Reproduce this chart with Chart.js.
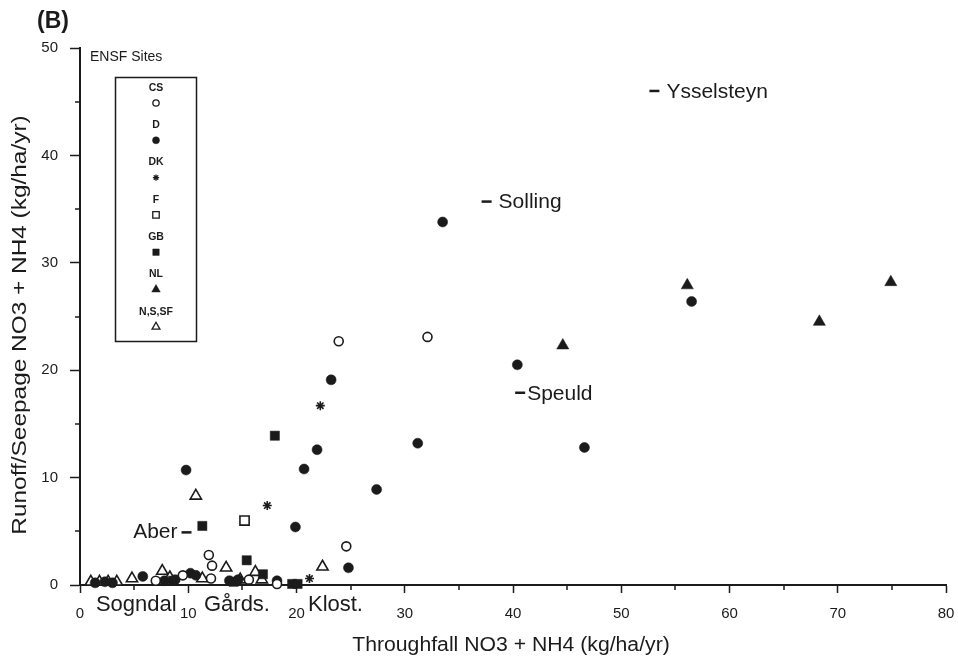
<!DOCTYPE html>
<html>
<head>
<meta charset="utf-8">
<script src="https://cdn.jsdelivr.net/npm/chart.js@4.4.1/dist/chart.umd.min.js"></script>
<style>
  html, body { margin: 0; padding: 0; background: #fff; }
  canvas { display: block; }
</style>
</head>
<body>
<canvas id="chart" width="958" height="664"></canvas>
<script>
(function () {
  "use strict";

  // ENSF site groups (kg/ha/yr)
  const siteNames = ["CS", "D", "DK", "F", "GB", "NL", "N,S,SF"];

  const csX = [23.9, 32.1, 24.6, 11.9, 12.2, 12.1, 9.5, 15.6, 18.2, 7.0];
  const csY = [22.7, 23.1, 3.6, 2.8, 1.8, 0.6, 0.9, 0.5, 0.1, 0.4];

  const dX = [33.5, 9.8, 23.2, 21.9, 20.7, 19.9, 27.4, 31.2, 40.4, 46.6, 56.5, 24.8, 18.2, 10.2, 10.7, 5.8, 7.8, 8.8, 13.8, 14.6, 2.3, 3.0, 1.4];
  const dY = [33.8, 10.7, 19.1, 12.6, 10.8, 5.4, 8.9, 13.2, 20.5, 12.8, 26.4, 1.6, 0.4, 1.1, 0.9, 0.8, 0.4, 0.5, 0.4, 0.5, 0.3, 0.2, 0.2];

  const dkX = [22.2, 17.3, 21.2];
  const dkY = [16.7, 7.4, 0.6];

  const fX = [15.2];
  const fY = [6.0];

  const gbX = [11.3, 18.0, 15.4, 16.9, 19.6, 20.1, 8.6, 14.2];
  const gbY = [5.5, 13.9, 2.3, 1.0, 0.1, 0.1, 0.4, 0.3];

  const nlX = [56.1, 74.9, 68.3, 44.6];
  const nlY = [27.9, 28.2, 24.5, 22.3];

  const nssfX = [10.7, 22.4, 13.5, 16.2, 7.6, 4.8, 14.8, 1.0, 1.8, 2.6, 3.4, 8.3, 11.3, 16.8];
  const nssfY = [8.3, 1.7, 1.6, 1.2, 1.3, 0.6, 0.5, 0.3, 0.3, 0.3, 0.3, 0.7, 0.6, 0.5];

  const siteX = [csX, dX, dkX, fX, gbX, nlX, nssfX];
  const siteY = [csY, dY, dkY, fY, gbY, nlY, nssfY];

  // named sites written next to points
  const noteText = ["Ysselsteyn", "Solling", "Speuld", "Aber"];
  const noteX = [52.6, 37.1, 40.2, 10.3];
  const noteY = [46.0, 35.7, 17.9, 4.9];

  // sites named under the x axis
  const regionText = ["Sogndal", "Gårds.", "Klost."];
  const regionX = [5.2, 14.5, 23.6];

  const xTicks = [0, 10, 20, 30, 40, 50, 60, 70, 80];
  const yTicks = [0, 10, 20, 30, 40, 50];

  const xTitle = "Throughfall NO3 + NH4 (kg/ha/yr)";
  const yTitle = "Runoff/Seepage NO3 + NH4 (kg/ha/yr)";

  // ---- styling ----
  const ink = "#1b1b1b";
  const font = "'Liberation Sans', Arial, Helvetica, sans-serif";

  const markerStyles = [
    { pointStyle: "circle", filled: false, radius: 4.5 },
    { pointStyle: "circle", filled: true, radius: 5 },
    { pointStyle: "star", filled: false, radius: 4.5 },
    { pointStyle: "rect", filled: false, radius: 6.5 },
    { pointStyle: "rect", filled: true, radius: 6.5 },
    { pointStyle: "triangle", filled: true, radius: 7 },
    { pointStyle: "triangle", filled: false, radius: 6.5 },
  ];
  const noteSide = ["right", "right", "right", "left"];
  const noteGap = [7, 7, 2, 4];

  function pts(xs, ys) {
    return xs.map((x, i) => ({ x, y: ys[i] }));
  }

  const datasets = siteNames.map((name, i) => {
    const m = markerStyles[i];
    return {
      label: name,
      data: pts(siteX[i], siteY[i]),
      pointStyle: m.pointStyle,
      pointRadius: m.radius,
      pointHoverRadius: m.radius,
      backgroundColor: m.filled ? ink : "#ffffff",
      borderColor: ink,
      borderWidth: m.filled ? 0.5 : 1.6,
      clip: false,
    };
  });

  function drawMarker(ctx, m, x, y, scale) {
    ctx.fillStyle = m.filled ? ink : "#ffffff";
    ctx.strokeStyle = ink;
    ctx.lineWidth = m.filled ? 0.5 : 1.3;
    Chart.helpers.drawPoint(ctx, {
      pointStyle: m.pointStyle,
      radius: m.radius * scale,
      rotation: 0,
      borderWidth: ctx.lineWidth,
    }, x, y);
  }

  // the scanned lettering runs a little wide along its line
  function wideText(ctx, text, cx, cy, angle, stretch) {
    ctx.save();
    ctx.translate(cx, cy);
    ctx.rotate(angle);
    ctx.scale(stretch, 1);
    ctx.textAlign = "center";
    ctx.textBaseline = "middle";
    ctx.fillText(text, 0, 0);
    ctx.restore();
  }

  const decorations = {
    id: "decorations",
    afterDraw(chart) {
      const { ctx } = chart;
      const x = chart.scales.x;
      const y = chart.scales.y;
      ctx.save();

      // minor ticks at the fives
      ctx.strokeStyle = ink;
      ctx.lineWidth = 1.5;
      ctx.beginPath();
      for (let v = 5; v < 80; v += 10) {
        const px = Math.round(x.getPixelForValue(v));
        ctx.moveTo(px, x.top);
        ctx.lineTo(px, x.top + 5);
      }
      for (let v = 5; v < 50; v += 10) {
        const py = Math.round(y.getPixelForValue(v));
        ctx.moveTo(y.right, py);
        ctx.lineTo(y.right - 5, py);
      }
      ctx.stroke();

      // axis titles
      ctx.fillStyle = ink;
      ctx.font = "20px " + font;
      wideText(ctx, xTitle, 511, 645, 0, 1.06);
      wideText(ctx, yTitle, 20, 325, -Math.PI / 2, 1.22);

      // panel letter
      ctx.font = "bold 23px " + font;
      ctx.textAlign = "left";
      ctx.textBaseline = "middle";
      ctx.fillText("(B)", 37, 22);

      // site names next to points
      ctx.font = "21px " + font;
      ctx.lineWidth = 2.5;
      noteText.forEach((t, i) => {
        const px = x.getPixelForValue(noteX[i]);
        const py = y.getPixelForValue(noteY[i]);
        ctx.beginPath();
        if (noteSide[i] === "right") {
          ctx.moveTo(px, py);
          ctx.lineTo(px + 10, py);
          ctx.stroke();
          ctx.textAlign = "left";
          ctx.fillText(t, px + 10 + noteGap[i], py + 1);
        } else {
          ctx.moveTo(px - 10, py);
          ctx.lineTo(px, py);
          ctx.stroke();
          ctx.textAlign = "right";
          ctx.fillText(t, px - 10 - noteGap[i], py);
        }
      });

      // names under the axis
      ctx.font = "22px " + font;
      ctx.textAlign = "center";
      regionText.forEach((t, i) => {
        ctx.fillText(t, x.getPixelForValue(regionX[i]), x.top + 20);
      });

      // legend box
      ctx.font = "14px " + font;
      ctx.textAlign = "left";
      ctx.fillText("ENSF Sites", 90, 57);
      ctx.lineWidth = 1.5;
      ctx.strokeRect(115.5, 77.5, 81, 264);
      ctx.font = "bold 10.5px " + font;
      ctx.textAlign = "center";
      siteNames.forEach((name, i) => {
        const ty = 88 + i * 37.3;
        ctx.fillStyle = ink;
        ctx.fillText(name, 156, ty);
        drawMarker(ctx, markerStyles[i], 156, ty + 15, 0.7);
      });

      ctx.restore();
    },
  };

  new Chart(document.getElementById("chart").getContext("2d"), {
    type: "scatter",
    data: { datasets },
    options: {
      responsive: false,
      animation: false,
      events: [],
      layout: { padding: { top: 48, right: 12, left: 0, bottom: 0 } },
      plugins: { legend: { display: false }, tooltip: { enabled: false } },
      scales: {
        x: {
          type: "linear",
          min: 0,
          max: 80,
          afterFit(s) {
            s.height = 79;
            s.paddingLeft = 0;
            s.paddingRight = 0;
          },
          afterBuildTicks(s) { s.ticks = xTicks.map((v) => ({ value: v })); },
          ticks: { color: ink, font: { family: font, size: 15 }, padding: 12, maxRotation: 0 },
          grid: { drawOnChartArea: false, drawTicks: true, tickLength: 8, tickColor: ink, tickWidth: 1.5 },
          border: { color: ink, width: 2 },
        },
        y: {
          type: "linear",
          min: 0,
          max: 50,
          afterFit(s) { s.width = 80; },
          afterBuildTicks(s) { s.ticks = yTicks.map((v) => ({ value: v })); },
          ticks: { color: ink, font: { family: font, size: 15 }, padding: 12 },
          grid: { drawOnChartArea: false, drawTicks: true, tickLength: 10, tickColor: ink, tickWidth: 1.5 },
          border: { color: ink, width: 2 },
        },
      },
    },
    plugins: [decorations],
  });
})();
</script>
</body>
</html>
